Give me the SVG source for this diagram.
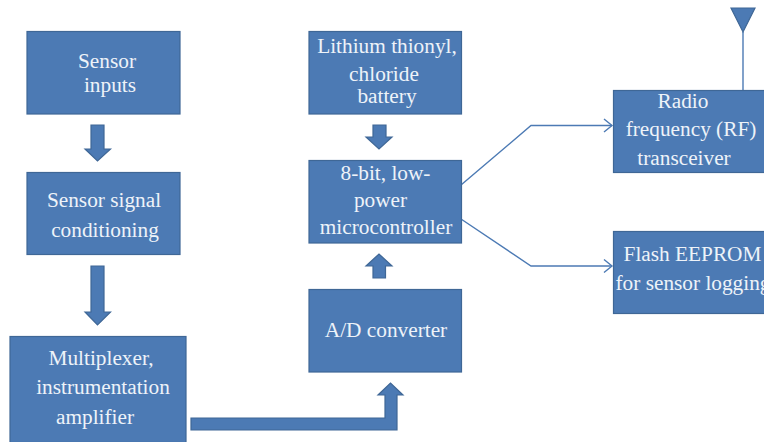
<svg xmlns="http://www.w3.org/2000/svg" width="764" height="442" viewBox="0 0 764 442">
<style>
.box{fill:#4c7ab4;stroke:#3f6796;stroke-width:1.2}
.arrow{fill:#4c7ab4;stroke:#3f6796;stroke-width:1.2;stroke-linejoin:miter}
.line{fill:none;stroke:#4c7ab4;stroke-width:1.4}
text{font-family:"Liberation Serif","Times New Roman",serif;font-size:21.300px;fill:#eef3f9;text-anchor:middle}
</style>
<defs>
<marker id="open" markerUnits="userSpaceOnUse" markerWidth="12" markerHeight="16" refX="9.5" refY="7" orient="auto" viewBox="0 0 12 14">
<path d="M1.5 0.5L9.5 7L1.5 13.5" fill="none" stroke="#4c7ab4" stroke-width="1.4"/>
</marker>
</defs>
<rect width="764" height="442" fill="#fff"/>
<g id="connectors">
<path class="arrow" d="M91 125H104V149H110.500L97.500 161L85 149H91Z"/>
<path class="arrow" d="M91 266H104V312H110.500L97.500 325L85 312H91Z"/>
<path class="arrow" d="M191 418H385V395H378L390.500 383L403 395H397V430H191Z"/>
<path class="arrow" d="M373 278H385.500V266H392L379 254L366 266H373Z"/>
<path class="arrow" d="M373 125H386V137H392L379 149L366 137H373Z"/>
<path class="line" d="M461 185L531 125.500H612" marker-end="url(#open)"/>
<path class="line" d="M461 219L531 266H612" marker-end="url(#open)"/>
<path class="line" d="M743 32V90" stroke-width="1.6"/>
</g>
<g id="sensor-inputs"><rect class="box" x="27" y="31.500" width="153" height="82.500"/><text x="107" y="68">Sensor</text><text x="110" y="92">inputs</text></g>
<g id="signal-conditioning"><rect class="box" x="27" y="172.500" width="153" height="82"/><text x="104" y="207">Sensor signal</text><text x="105" y="237">conditioning</text></g>
<g id="multiplexer"><rect class="box" x="10" y="336.500" width="176" height="106"/><text x="101" y="365">Multiplexer,</text><text x="103" y="394">instrumentation</text><text x="95" y="424">amplifier</text></g>
<g id="ad-converter"><rect class="box" x="309" y="289.500" width="152.500" height="82.500"/><text x="386" y="336.500">A/D converter</text></g>
<g id="microcontroller"><rect class="box" x="309" y="160.500" width="152.500" height="82.500"/><text x="385.500" y="180">8-bit, low-</text><text x="380.500" y="207">power</text><text x="386" y="234">microcontroller</text></g>
<g id="battery"><rect class="box" x="309" y="31.500" width="152.500" height="82.500"/><text x="387" y="53">Lithium thionyl,</text><text x="384" y="80.500">chloride</text><text x="387" y="103">battery</text></g>
<g id="radio"><rect class="box" x="613.500" y="90.500" width="152" height="82"/><text x="683" y="108">Radio</text><text x="691" y="135.500">frequency (RF)</text><text x="684" y="165">transceiver</text></g>
<g id="flash"><rect class="box" x="613.500" y="231.500" width="152" height="82"/><text x="692.500" y="261">Flash EEPROM</text><text x="693" y="289.500">for sensor logging</text></g>
<g id="antenna"><path class="arrow" d="M731 8H755L743 32Z"/></g>
</svg>
